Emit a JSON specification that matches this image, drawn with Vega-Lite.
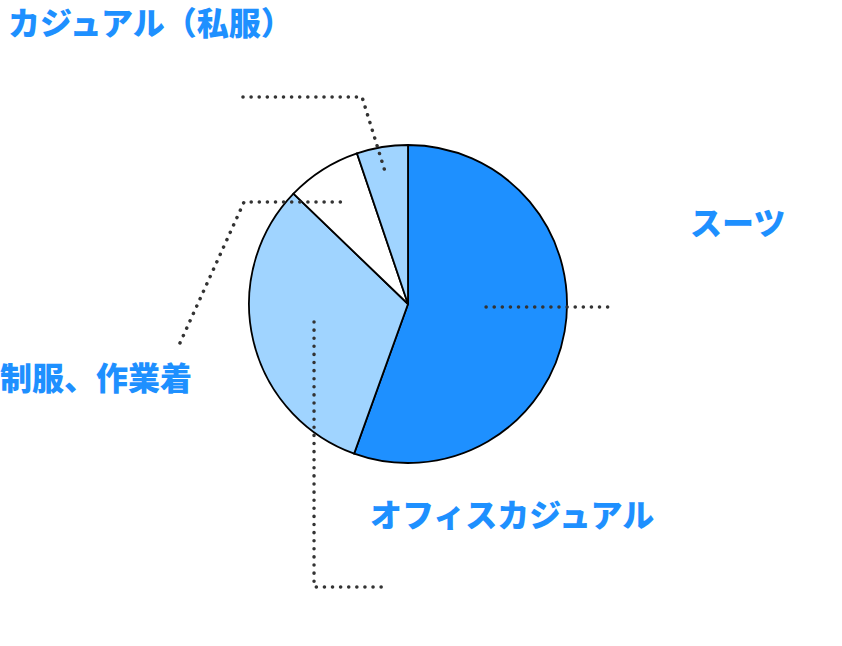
{
  "$schema": "https://vega.github.io/schema/vega-lite/v6.json",
  "width": 816,
  "height": 608,
  "padding": 0,
  "autosize": "none",
  "background": "white",
  "config": {"view": {"stroke": null}, "font": "Noto Sans CJK JP"},
  "datasets": {
    "shares": [
      {"category": "スーツ", "share": 55.5, "rank": 1},
      {"category": "オフィスカジュアル", "share": 31.7, "rank": 2},
      {"category": "制服、作業着", "share": 7.6, "rank": 3},
      {"category": "カジュアル（私服）", "share": 5.2, "rank": 4}
    ],
    "leaders": [
      {"category": "カジュアル（私服）", "step": 1, "x": -1.038, "y": 1.302},
      {"category": "カジュアル（私服）", "step": 2, "x": -0.289, "y": 1.302},
      {"category": "カジュアル（私服）", "step": 3, "x": -0.148, "y": 0.845},
      {"category": "制服、作業着", "step": 1, "x": -1.434, "y": -0.245},
      {"category": "制服、作業着", "step": 2, "x": -1.031, "y": 0.642},
      {"category": "制服、作業着", "step": 3, "x": -0.42, "y": 0.642},
      {"category": "スーツ", "step": 1, "x": 0.491, "y": -0.019},
      {"category": "スーツ", "step": 2, "x": 1.29, "y": -0.019},
      {"category": "オフィスカジュアル", "step": 1, "x": -0.591, "y": -0.113},
      {"category": "オフィスカジュアル", "step": 2, "x": -0.591, "y": -1.78},
      {"category": "オフィスカジュアル", "step": 3, "x": -0.125, "y": -1.78}
    ],
    "labels": [
      {"category": "カジュアル（私服）", "x": -2.516, "y": 1.755},
      {"category": "スーツ", "x": 1.774, "y": 0.497},
      {"category": "制服、作業着", "x": -2.566, "y": -0.478},
      {"category": "オフィスカジュアル", "x": -0.239, "y": -1.34}
    ]
  },
  "layer": [
    {
      "data": {"name": "shares"},
      "mark": {"type": "arc", "radius": 159, "stroke": "black", "strokeWidth": 1.8},
      "encoding": {
        "theta": {"field": "share", "type": "quantitative", "stack": true},
        "order": {"field": "rank", "type": "quantitative"},
        "color": {
          "field": "category",
          "type": "nominal",
          "legend": null,
          "scale": {
            "domain": ["スーツ", "オフィスカジュアル", "制服、作業着", "カジュアル（私服）"],
            "range": ["#1e90ff", "#a0d4ff", "#ffffff", "#a0d4ff"]
          }
        }
      }
    },
    {
      "data": {"name": "leaders"},
      "mark": {"type": "line", "color": "#333333", "strokeWidth": 3.5, "strokeCap": "round", "strokeDash": [0.1, 8]},
      "encoding": {
        "x": {"field": "x", "type": "quantitative", "axis": null, "scale": {"domain": [-2.566, 2.566], "nice": false, "zero": false}},
        "y": {"field": "y", "type": "quantitative", "axis": null, "scale": {"domain": [-1.912, 1.912], "nice": false, "zero": false}},
        "detail": {"field": "category"},
        "order": {"field": "step", "type": "quantitative"}
      }
    },
    {
      "data": {"name": "labels"},
      "mark": {"type": "text", "align": "left", "baseline": "middle", "fontSize": 32, "fontWeight": 900, "color": "#1e90ff"},
      "encoding": {
        "x": {"field": "x", "type": "quantitative", "axis": null},
        "y": {"field": "y", "type": "quantitative", "axis": null},
        "text": {"field": "category"}
      }
    }
  ]
}
